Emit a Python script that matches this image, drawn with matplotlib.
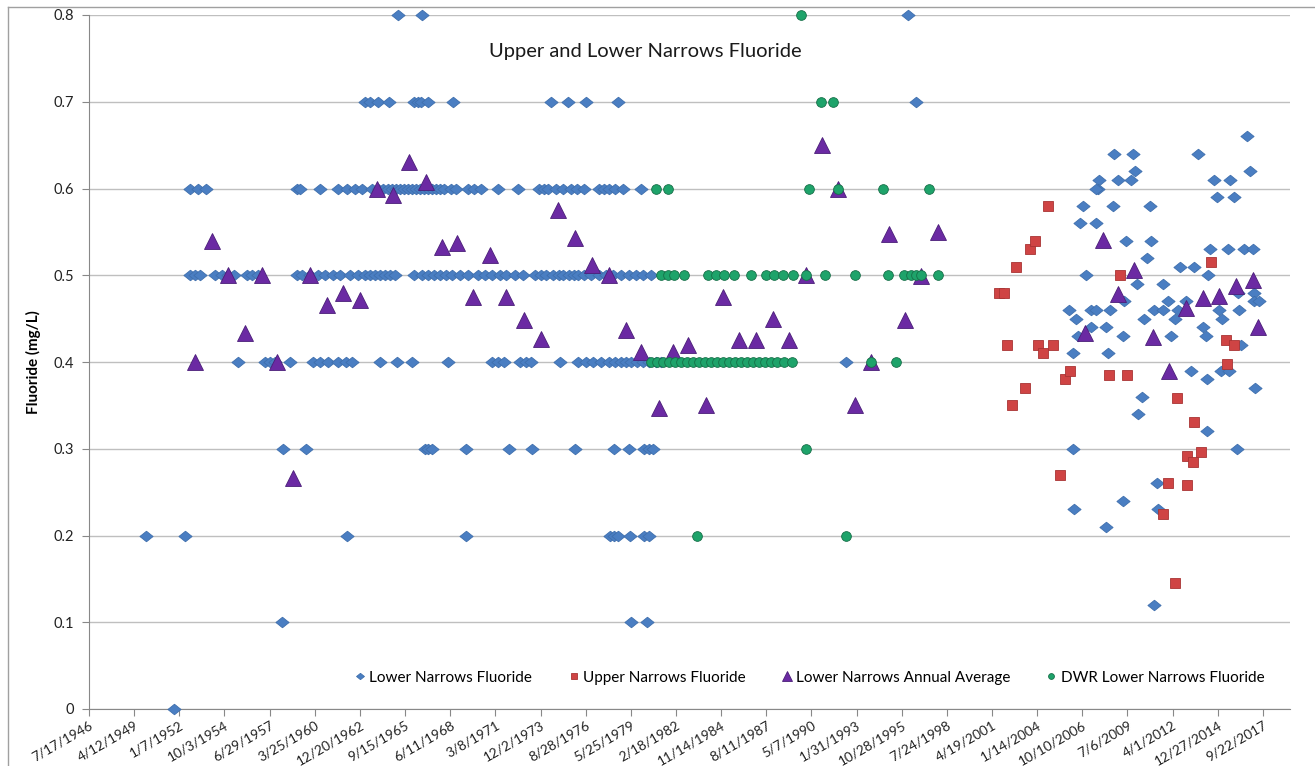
import matplotlib
matplotlib.use("Agg")
import matplotlib.pyplot as plt
import matplotlib.dates as mdates
from matplotlib.path import Path
from matplotlib.lines import Line2D
from matplotlib.ticker import FuncFormatter
from datetime import datetime, timedelta

# Lower Narrows Fluoride (sampled at 0.1 steps through ~1998), decimal years
lower_08 = [1965.30, 1966.76, 1996.19]
lower_07 = [1963.30, 1963.60, 1964.08, 1964.75, 1966.27, 1966.51, 1966.69, 1967.12, 1968.64,
            1974.53, 1975.56, 1976.65, 1978.59, 1996.68]
lower_06 = [1952.67, 1953.16, 1953.64, 1959.17, 1959.35, 1960.56, 1961.66, 1962.20, 1962.69,
            1963.11, 1963.72, 1964.08, 1964.39, 1964.69, 1964.93, 1965.18, 1965.42, 1965.66,
            1965.91, 1966.15, 1966.39, 1966.63, 1966.88, 1967.12, 1967.36, 1967.61, 1967.85,
            1968.09, 1968.46, 1968.82, 1969.55, 1969.91, 1970.28, 1971.37, 1972.58, 1973.80,
            1974.10, 1974.40, 1974.83, 1975.31, 1975.74, 1976.16, 1976.53, 1977.44, 1977.74,
            1978.05, 1978.41, 1978.90, 1979.99]
lower_05 = [1952.67, 1952.98, 1953.28, 1954.19, 1954.62, 1954.98, 1955.34, 1956.13, 1956.44,
            1956.80, 1959.17, 1959.47, 1959.96, 1960.44, 1960.87, 1961.35, 1961.78, 1962.39,
            1962.87, 1963.30, 1963.60, 1963.90, 1964.21, 1964.51, 1964.81, 1965.12, 1966.27,
            1966.76, 1967.12, 1967.48, 1967.85, 1968.21, 1968.58, 1969.06, 1969.55, 1970.15,
            1970.58, 1971.00, 1971.49, 1971.85, 1972.40, 1972.83, 1973.61, 1973.92, 1974.22,
            1974.65, 1975.01, 1975.31, 1975.62, 1975.92, 1976.22, 1976.53, 1976.95, 1977.44,
            1977.86, 1978.29, 1978.77, 1979.26, 1979.68, 1980.11, 1980.60]
lower_04 = [1955.59, 1957.23, 1957.53, 1957.83, 1958.74, 1960.14, 1960.56, 1961.05, 1961.66,
            1962.14, 1962.51, 1964.21, 1965.24, 1966.15, 1968.33, 1971.00, 1971.37, 1971.73,
            1972.70, 1973.01, 1973.31, 1975.13, 1976.22, 1976.65, 1977.07, 1977.56, 1978.05,
            1978.41, 1978.77, 1979.08, 1979.38, 1979.75, 1980.11, 1980.47, 1980.90, 1981.20,
            1992.43]
lower_03 = [1958.32, 1959.71, 1966.94, 1967.12, 1967.36, 1969.37, 1971.98, 1973.43, 1976.04,
            1978.35, 1979.26, 1980.17, 1980.47, 1980.72]
lower_02 = [1950.00, 1952.37, 1962.20, 1969.37, 1978.11, 1978.35, 1978.59, 1979.32, 1980.17,
            1980.47]
lower_01 = [1958.26, 1979.38, 1980.35]
lower_00 = [1951.70]

# Lower Narrows Fluoride, recent samples (2006-2017)
lower_recent_years = [2016.77, 2008.70, 2009.85, 2013.80, 2009.97, 2016.95, 2007.79, 2008.94,
                      2009.73, 2014.77, 2015.74, 2007.73, 2007.61, 2014.95, 2015.98, 2006.82,
                      2008.64, 2010.88, 2006.64, 2007.61, 2009.43, 2010.95, 2010.70, 2014.53,
                      2015.62, 2016.59, 2017.14, 2012.71, 2013.56, 2007.00, 2014.40, 2010.10,
                      2011.67, 2017.20, 2009.31, 2011.98, 2013.07, 2016.23, 2017.20, 2017.50,
                      2005.97, 2007.30, 2007.61, 2008.46, 2011.13, 2011.67, 2012.58, 2015.07,
                      2016.29, 2006.39, 2010.52, 2012.40, 2015.25, 2014.10, 2007.30, 2008.21,
                      2006.51, 2009.25, 2012.16, 2014.28, 2016.41, 2006.21, 2008.33, 2013.37,
                      2015.19, 2015.68, 2014.34, 2017.26, 2010.40, 2010.16, 2014.34, 2006.21,
                      2016.17, 2011.31, 2006.27, 2009.25, 2011.37, 2008.21, 2011.13]
lower_recent_vals = [0.66, 0.64, 0.64, 0.64, 0.62, 0.62, 0.61, 0.61, 0.61, 0.61, 0.61, 0.60,
                     0.60, 0.59, 0.59, 0.58, 0.58, 0.58, 0.56, 0.56, 0.54, 0.54, 0.52, 0.53,
                     0.53, 0.53, 0.53, 0.51, 0.51, 0.50, 0.50, 0.49, 0.49, 0.48, 0.47, 0.47,
                     0.47, 0.48, 0.47, 0.47, 0.46, 0.46, 0.46, 0.46, 0.46, 0.46, 0.46, 0.46,
                     0.46, 0.45, 0.45, 0.45, 0.45, 0.44, 0.44, 0.44, 0.43, 0.43, 0.43, 0.43,
                     0.42, 0.41, 0.41, 0.39, 0.39, 0.39, 0.38, 0.37, 0.36, 0.34, 0.32, 0.30,
                     0.30, 0.26, 0.23, 0.24, 0.23, 0.21, 0.12]

# Upper Narrows Fluoride
upper_years = [2001.72, 2002.02, 2002.20, 2002.51, 2002.75, 2003.30, 2003.60, 2003.90, 2004.09,
               2004.39, 2004.69, 2005.00, 2005.42, 2005.72, 2006.03, 2008.40, 2009.06, 2009.49,
               2011.67, 2011.98, 2012.40, 2012.52, 2013.13, 2013.13, 2013.49, 2013.56, 2013.98,
               2014.59, 2015.50, 2015.56, 2015.98]
upper_vals = [0.48, 0.48, 0.42, 0.35, 0.51, 0.37, 0.53, 0.54, 0.42, 0.41, 0.58, 0.42, 0.27,
              0.38, 0.39, 0.385, 0.50, 0.385, 0.225, 0.26, 0.145, 0.358, 0.292, 0.258, 0.285,
              0.331, 0.296, 0.515, 0.425, 0.398, 0.42]

# Lower Narrows Annual Average
avg_years = [1952.98, 1954.01, 1954.98, 1956.01, 1957.04, 1957.95, 1958.93, 1959.96, 1960.99,
             1961.96, 1962.99, 1964.02, 1965.00, 1965.97, 1967.00, 1967.97, 1968.88, 1969.85,
             1970.88, 1971.85, 1972.89, 1973.92, 1974.95, 1975.98, 1977.01, 1978.05, 1979.08,
             1979.99, 1981.08, 1981.93, 1982.84, 1983.93, 1984.97, 1985.94, 1986.97, 1988.00,
             1988.97, 1990.00, 1990.97, 1991.95, 1992.98, 1993.95, 1995.04, 1996.01, 1996.98,
             1998.02, 2006.94, 2008.03, 2008.94, 2009.91, 2011.07, 2012.04, 2013.07, 2014.10,
             2015.07, 2016.10, 2017.14, 2017.44]
avg_vals = [0.40, 0.54, 0.50, 0.433, 0.50, 0.40, 0.266, 0.50, 0.466, 0.48, 0.472, 0.60, 0.593,
            0.631, 0.607, 0.533, 0.537, 0.475, 0.523, 0.475, 0.448, 0.427, 0.575, 0.543, 0.512,
            0.50, 0.437, 0.411, 0.347, 0.411, 0.42, 0.35, 0.475, 0.425, 0.425, 0.45, 0.425,
            0.50, 0.65, 0.60, 0.35, 0.40, 0.548, 0.448, 0.499, 0.55, 0.433, 0.541, 0.478,
            0.506, 0.429, 0.39, 0.462, 0.474, 0.476, 0.488, 0.494, 0.44]

# DWR Lower Narrows Fluoride
dwr_08 = [1989.70]
dwr_07 = [1990.91, 1991.64]
dwr_06 = [1980.90, 1981.63, 1990.19, 1991.95, 1994.68, 1997.47]
dwr_05 = [1981.20, 1981.63, 1981.99, 1982.60, 1984.05, 1984.54, 1985.03, 1985.63, 1986.67,
          1987.58, 1988.06, 1988.61, 1989.21, 1990.00, 1991.16, 1992.98, 1994.98, 1995.95,
          1996.38, 1996.68, 1996.98, 1998.02]
dwr_04 = [1980.60, 1980.96, 1981.32, 1981.69, 1982.05, 1982.42, 1982.78, 1983.14, 1983.51,
          1983.87, 1984.24, 1984.60, 1984.97, 1985.33, 1985.69, 1986.06, 1986.42, 1986.79,
          1987.15, 1987.51, 1987.88, 1988.24, 1988.67, 1989.15, 1993.95, 1995.47]
dwr_03 = [1990.00]
dwr_02 = [1983.39, 1992.43]


def to_dates(years):
    out = []
    for y in years:
        start = datetime(int(y), 1, 1)
        end = datetime(int(y) + 1, 1, 1)
        out.append(start + (end - start) * (y - int(y)))
    return out


def stack_levels(levels):
    xs, ys = [], []
    for value, years in levels:
        xs += years
        ys += [value] * len(years)
    return xs, ys


def main():
    plt.rcParams["font.family"] = ["Lato", "DejaVu Sans"]

    lower_x, lower_y = stack_levels([(0.8, lower_08), (0.7, lower_07), (0.6, lower_06),
                                     (0.5, lower_05), (0.4, lower_04), (0.3, lower_03),
                                     (0.2, lower_02), (0.1, lower_01), (0.0, lower_00)])
    lower_x += lower_recent_years
    lower_y += lower_recent_vals
    dwr_x, dwr_y = stack_levels([(0.8, dwr_08), (0.7, dwr_07), (0.6, dwr_06), (0.5, dwr_05),
                                 (0.4, dwr_04), (0.3, dwr_03), (0.2, dwr_02)])

    # Step 1: figure laid out like the Excel chart.
    fig = plt.figure(figsize = (13.15, 7.66), dpi = 100)
    ax = fig.add_axes([89 / 1315, 1 - 709 / 766, (1290 - 89) / 1315, (709 - 15) / 766])

    diamond = Path([(-1, 0), (0, 0.8), (1, 0), (0, -0.8), (-1, 0)],
                   [Path.MOVETO, Path.LINETO, Path.LINETO, Path.LINETO, Path.CLOSEPOLY])

    ax.plot(to_dates(lower_x), lower_y, linestyle = "none", marker = diamond, markersize = 9.5,
            color = "#4A7EC2", markeredgecolor = "#3F6FAD", markeredgewidth = 0.6,
            label = "Lower Narrows Fluoride", clip_on = False, zorder = 3)
    ax.plot(to_dates(upper_years), upper_vals, linestyle = "none", marker = "s", markersize = 6.5,
            color = "#CF4444", markeredgecolor = "#A83434", markeredgewidth = 0.6,
            label = "Upper Narrows Fluoride", clip_on = False, zorder = 4)
    ax.plot(to_dates(avg_years), avg_vals, linestyle = "none", marker = "^", markersize = 11,
            color = "#6B2AA3", markeredgecolor = "#4A1E78", markeredgewidth = 0.6,
            label = "Lower Narrows Annual Average", clip_on = False, zorder = 5)
    ax.plot(to_dates(dwr_x), dwr_y, linestyle = "none", marker = "o", markersize = 7,
            color = "#1EA36A", markeredgecolor = "#176F48", markeredgewidth = 0.6,
            label = "DWR Lower Narrows Fluoride", clip_on = False, zorder = 6)

    # Step 2: axes.
    start = datetime(1946, 7, 17)
    ticks = [start + timedelta(days = 1000 * i) for i in range(27)]
    ax.set_xlim(mdates.date2num(start), mdates.date2num(datetime(2019, 5, 14)))
    ax.set_xticks(mdates.date2num(ticks))
    ax.set_xticklabels([f"{t.month}/{t.day}/{t.year}" for t in ticks], rotation = 30,
                       ha = "right", rotation_mode = "anchor", fontsize = 9.8, color = "#222222")

    ax.set_ylim(0, 0.8)
    ax.set_yticks([i / 10 for i in range(9)])
    ax.yaxis.set_major_formatter(FuncFormatter(lambda v, p: f"{v:g}"))
    ax.tick_params(axis = "y", labelsize = 10.5, labelcolor = "#222222", length = 5,
                   color = "#888888", pad = 6)
    ax.tick_params(axis = "x", length = 5, color = "#888888", pad = 2)

    ax.yaxis.grid(True, color = "#BFBFBF", linewidth = 1)
    ax.set_axisbelow(True)
    for side in ["top", "right"]:
        ax.spines[side].set_visible(False)
    for side in ["left", "bottom"]:
        ax.spines[side].set_color("#888888")

    ax.set_ylabel("Fluoride (mg/L)", fontsize = 11, fontweight = "bold")
    ax.yaxis.set_label_coords(-0.040, 0.5)
    ax.text(0.463, 0.947, "Upper and Lower Narrows Fluoride", transform = ax.transAxes,
            ha = "center", va = "center", fontsize = 14.5, color = "#1a1a1a")

    ax.legend(loc = "center", bbox_to_anchor = (0.599, 0.045), ncol = 4, frameon = False,
              fontsize = 11, markerscale = 0.6, handletextpad = 0.1, columnspacing = 2.2,
              handlelength = 1.0)

    # chart border as in the spreadsheet export
    fig.add_artist(Line2D([8 / 1315, 8 / 1315], [0, 1 - 7 / 766], transform = fig.transFigure,
                          color = "#A0A0A0", linewidth = 1))
    fig.add_artist(Line2D([8 / 1315, 1], [1 - 7 / 766, 1 - 7 / 766], transform = fig.transFigure,
                          color = "#A0A0A0", linewidth = 1))

    # Step 3: export.
    fig.savefig("out.png", dpi = 100)


if __name__ == "__main__":
    main()
